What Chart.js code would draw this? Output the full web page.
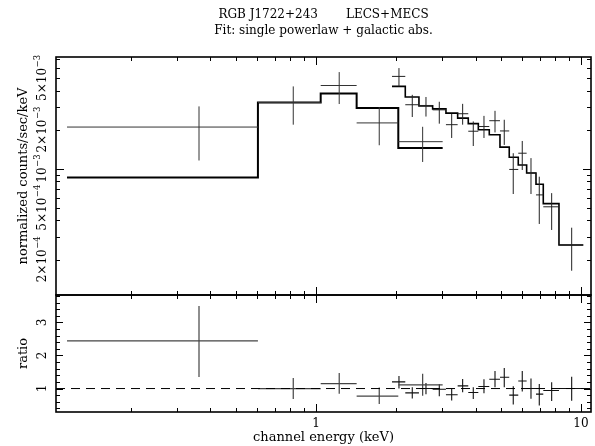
<!DOCTYPE html>
<html>
<head>
<meta charset="UTF-8" />
<script src="https://cdn.jsdelivr.net/npm/chart.js@4.4.0/dist/chart.umd.min.js"></script>
<style>
  body { margin: 0; background: #fff; }
  #wrap { position: relative; width: 595px; height: 446px; }
  canvas { position: absolute; left: 0; top: 0; }
</style>
</head>
<body>
<div id="wrap">
  <canvas id="specChart" width="595" height="446"></canvas>
  <canvas id="ratioChart" width="595" height="446"></canvas>
</div>
<script>
// LECS bins (keV) and normalized counts/sec/keV
const lecsLo = [0.115, 0.604, 1.042, 1.424, 2.045];
const lecsHi = [0.604, 1.042, 1.424, 2.045, 3.007];
const lecsE = [0.362, 0.821, 1.224, 1.733, 2.527];
const lecsRate = [2.10e-3, 3.25e-3, 4.39e-3, 2.26e-3, 1.62e-3];
const lecsRateLo = [1.16e-3, 2.19e-3, 3.16e-3, 1.52e-3, 1.13e-3];
const lecsRateHi = [3.03e-3, 4.32e-3, 5.57e-3, 2.99e-3, 2.11e-3];
const lecsModel = [8.57e-4, 3.25e-3, 3.81e-3, 2.94e-3, 1.45e-3];
const lecsRatio = [2.44, 1.00, 1.15, 0.77, 1.11];
const lecsRatioLo = [1.35, 0.68, 0.84, 0.53, 0.78];
const lecsRatioHi = [3.50, 1.32, 1.47, 1.03, 1.45];

// MECS bins
const mecsLo = [1.936, 2.173, 2.447, 2.756, 3.094, 3.425, 3.756, 4.099, 4.508, 4.947, 5.362, 5.799, 6.237, 6.765, 7.207, 8.260];
const mecsHi = [2.173, 2.447, 2.756, 3.094, 3.425, 3.756, 4.099, 4.508, 4.947, 5.362, 5.799, 6.237, 6.765, 7.207, 8.260, 10.20];
const mecsE = [2.057, 2.309, 2.601, 2.920, 3.252, 3.577, 3.923, 4.305, 4.738, 5.135, 5.552, 6.004, 6.477, 6.961, 7.752, 9.224];
const mecsRate = [5.16e-3, 3.12e-3, 3.08e-3, 2.85e-3, 2.19e-3, 2.66e-3, 1.95e-3, 2.12e-3, 2.35e-3, 1.96e-3, 9.9e-4, 1.32e-3, 9.3e-4, 6.3e-4, 5.1e-4, 2.59e-4];
const mecsRateLo = [4.32e-3, 2.51e-3, 2.53e-3, 2.23e-3, 1.73e-3, 2.19e-3, 1.50e-3, 1.73e-3, 1.91e-3, 1.53e-3, 6.4e-4, 9.8e-4, 6.4e-4, 3.76e-4, 3.38e-4, 1.64e-4];
const mecsRateHi = [5.98e-3, 3.72e-3, 3.58e-3, 3.29e-3, 2.66e-3, 3.17e-3, 2.32e-3, 2.56e-3, 2.80e-3, 2.39e-3, 1.32e-3, 1.64e-3, 1.21e-3, 8.7e-4, 6.5e-4, 3.52e-4];
const mecsModel = [4.32e-3, 3.58e-3, 3.06e-3, 2.90e-3, 2.69e-3, 2.46e-3, 2.23e-3, 2.00e-3, 1.83e-3, 1.47e-3, 1.23e-3, 1.07e-3, 9.3e-4, 7.6e-4, 5.4e-4, 2.59e-4];
const mecsRatio = [1.20, 0.87, 1.00, 0.98, 0.81, 1.08, 0.88, 1.06, 1.28, 1.34, 0.80, 1.23, 1.00, 0.83, 0.94, 1.00];
const mecsRatioLo = [1.00, 0.70, 0.83, 0.77, 0.64, 0.89, 0.68, 0.86, 1.04, 1.04, 0.52, 0.91, 0.69, 0.49, 0.62, 0.63];
const mecsRatioHi = [1.38, 1.04, 1.17, 1.13, 0.99, 1.29, 1.04, 1.28, 1.53, 1.62, 1.07, 1.53, 1.30, 1.14, 1.19, 1.36];

// axis labels
const xTickVals = [1, 10];
const xTickText = ['1', '10'];
const yTickVals = [2e-4, 5e-4, 1e-3, 2e-3, 5e-3];
const yTickMant = ['2\u00d710', '5\u00d710', '10', '2\u00d710', '5\u00d710'];
const yTickExp = ['\u22124', '\u22124', '\u22123', '\u22123', '\u22123'];
const ratioTickVals = [1, 2, 3];
const ratioTickText = ['1', '2', '3'];

const xMin = 0.1045, xMax = 10.91;
const yMin = 1.066e-4, yMax = 7.28e-3;
const rMin = 0.29, rMax = 3.83;
const FONT = '"DejaVu Serif", serif';

function crossData(lo, hi, e, v, vLo, vHi) {
  const pts = [];
  for (let i = 0; i < e.length; i++) {
    pts.push({x: lo[i], y: v[i]}, {x: hi[i], y: v[i]}, {x: hi[i], y: null});
    pts.push({x: e[i], y: vLo[i]}, {x: e[i], y: vHi[i]}, {x: e[i], y: null});
  }
  return pts;
}
function stepData(lo, hi, m) {
  const pts = lo.map((l, i) => ({x: l, y: m[i]}));
  pts.push({x: hi[hi.length - 1], y: m[m.length - 1]});
  return pts;
}

// log tick marks
function logMarks(min, max) {
  const out = [];
  for (let n = -5; n <= 2; n++) {
    for (let k = 1; k <= 9; k++) {
      const v = k * Math.pow(10, n);
      if (v >= min && v <= max) out.push({v: v, major: k === 1});
    }
  }
  return out;
}
const xMarks = logMarks(xMin, xMax);
const yMarks = logMarks(yMin, yMax);
const rMarks = [];
for (let i = 2; i <= 19; i++) rMarks.push({v: i / 5, major: i % 5 === 0});

function drawFrame(chart, yList, majLen) {
  const ctx = chart.ctx, a = chart.chartArea;
  const sx = chart.scales.x, sy = chart.scales.y;
  ctx.save();
  ctx.strokeStyle = '#000';
  ctx.lineWidth = 1;
  ctx.beginPath();
  xMarks.forEach(t => {
    const px = Math.round(sx.getPixelForValue(t.v)) + 0.5;
    const len = t.major ? 8 : 4;
    ctx.moveTo(px, a.bottom); ctx.lineTo(px, a.bottom - len);
    ctx.moveTo(px, a.top); ctx.lineTo(px, a.top + len);
  });
  yList.forEach(t => {
    const py = Math.round(sy.getPixelForValue(t.v)) + 0.5;
    const len = t.major ? majLen : 4;
    ctx.moveTo(a.left, py); ctx.lineTo(a.left + len, py);
    ctx.moveTo(a.right, py); ctx.lineTo(a.right - len, py);
  });
  ctx.stroke();
  ctx.lineWidth = 1.6;
  ctx.strokeRect(a.left, a.top, a.right - a.left, a.bottom - a.top);
  ctx.restore();
}

function vText(ctx, str, x, y) {
  ctx.save();
  ctx.translate(x, y);
  ctx.rotate(-Math.PI / 2);
  ctx.fillText(str, 0, 0);
  ctx.restore();
}

const specDecor = {
  id: 'specDecor',
  afterDraw(chart) {
    drawFrame(chart, yMarks, 8);
    const ctx = chart.ctx, a = chart.chartArea, sy = chart.scales.y;
    const cx = (a.left + a.right) / 2;
    ctx.save();
    ctx.fillStyle = '#000';
    // title
    ctx.font = '12px ' + FONT;
    ctx.textBaseline = 'alphabetic';
    const t1 = 'RGB J1722+243', t2 = 'LECS+MECS', gap = 28;
    const w1 = ctx.measureText(t1).width, w2 = ctx.measureText(t2).width;
    const s = cx - (w1 + gap + w2) / 2;
    ctx.textAlign = 'left';
    ctx.fillText(t1, s, 18);
    ctx.fillText(t2, s + w1 + gap, 18);
    ctx.textAlign = 'center';
    ctx.fillText('Fit: single powerlaw + galactic abs.', cx, 34);
    // y title
    ctx.font = '13px ' + FONT;
    vText(ctx, 'normalized counts/sec/keV', 27, (a.top + a.bottom) / 2);
    // y tick labels with exponents
    yTickVals.forEach((v, i) => {
      const py = sy.getPixelForValue(v);
      ctx.font = '12px ' + FONT;
      const wm = ctx.measureText(yTickMant[i]).width;
      ctx.font = '8.5px ' + FONT;
      const we = ctx.measureText(yTickExp[i]).width;
      ctx.save();
      ctx.translate(46, py);
      ctx.rotate(-Math.PI / 2);
      ctx.textAlign = 'left';
      const x0 = -(wm + we) / 2;
      ctx.font = '12px ' + FONT;
      ctx.fillText(yTickMant[i], x0, 0);
      ctx.font = '8.5px ' + FONT;
      ctx.fillText(yTickExp[i], x0 + wm + 0.5, -6.5);
      ctx.restore();
    });
    ctx.restore();
  }
};

const ratioDecor = {
  id: 'ratioDecor',
  afterDraw(chart) {
    drawFrame(chart, rMarks, 7);
    const ctx = chart.ctx, a = chart.chartArea, sx = chart.scales.x, sy = chart.scales.y;
    ctx.save();
    ctx.fillStyle = '#000';
    ctx.font = '12px ' + FONT;
    ctx.textAlign = 'center';
    ctx.textBaseline = 'alphabetic';
    xTickVals.forEach((v, i) => {
      ctx.fillText(xTickText[i], sx.getPixelForValue(v), 427);
    });
    ratioTickVals.forEach((v, i) => {
      vText(ctx, ratioTickText[i], 46, sy.getPixelForValue(v));
    });
    ctx.font = '13px ' + FONT;
    ctx.fillText('channel energy (keV)', (a.left + a.right) / 2, 441);
    vText(ctx, 'ratio', 27, (a.top + a.bottom) / 2);
    ctx.restore();
  }
};

function baseOptions(pad, yType, lo, hi) {
  return {
    responsive: false,
    animation: false,
    events: [],
    layout: { padding: pad },
    plugins: { legend: { display: false }, tooltip: { enabled: false } },
    elements: { point: { radius: 0 }, line: { tension: 0 } },
    scales: {
      x: { type: 'logarithmic', min: xMin, max: xMax, display: false },
      y: { type: yType, min: lo, max: hi, display: false }
    }
  };
}

new Chart(document.getElementById('specChart'), {
  type: 'scatter',
  data: {
    datasets: [
      { label: 'LECS', data: crossData(lecsLo, lecsHi, lecsE, lecsRate, lecsRateLo, lecsRateHi),
        showLine: true, spanGaps: false, borderColor: '#333', borderWidth: 1 },
      { label: 'MECS', data: crossData(mecsLo, mecsHi, mecsE, mecsRate, mecsRateLo, mecsRateHi),
        showLine: true, spanGaps: false, borderColor: '#222', borderWidth: 1 },
      { label: 'LECS model', data: stepData(lecsLo, lecsHi, lecsModel),
        showLine: true, stepped: true, borderColor: '#000', borderWidth: 2 },
      { label: 'MECS model', data: stepData(mecsLo, mecsHi, mecsModel),
        showLine: true, stepped: true, borderColor: '#000', borderWidth: 1.6 }
    ]
  },
  options: baseOptions({ left: 56, right: 4, top: 57, bottom: 151 }, 'logarithmic', yMin, yMax),
  plugins: [specDecor]
});

new Chart(document.getElementById('ratioChart'), {
  type: 'scatter',
  data: {
    datasets: [
      { label: 'unity', data: [{x: xMin, y: 1}, {x: xMax, y: 1}],
        showLine: true, borderColor: '#000', borderWidth: 1, borderDash: [9, 6] },
      { label: 'LECS ratio', data: crossData(lecsLo, lecsHi, lecsE, lecsRatio, lecsRatioLo, lecsRatioHi),
        showLine: true, spanGaps: false, borderColor: '#444', borderWidth: 1.2 },
      { label: 'MECS ratio', data: crossData(mecsLo, mecsHi, mecsE, mecsRatio, mecsRatioLo, mecsRatioHi),
        showLine: true, spanGaps: false, borderColor: '#111', borderWidth: 1.1 }
    ]
  },
  options: baseOptions({ left: 56, right: 4, top: 295, bottom: 34 }, 'linear', rMin, rMax),
  plugins: [ratioDecor]
});
</script>
</body>
</html>
